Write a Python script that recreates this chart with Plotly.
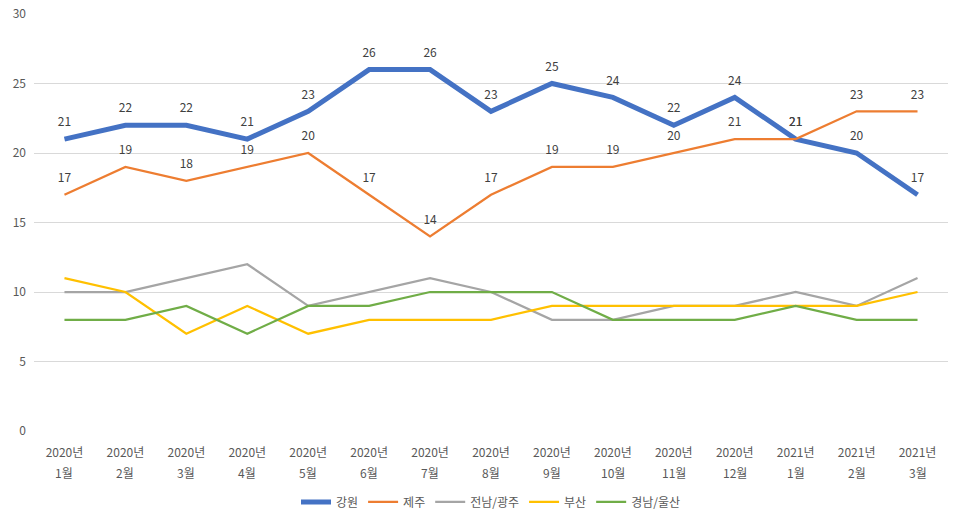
import plotly.graph_objects as go

years = ["2020년"] * 12 + ["2021년"] * 3
months = ["1월", "2월", "3월", "4월", "5월", "6월", "7월", "8월", "9월", "10월", "11월", "12월",
          "1월", "2월", "3월"]
categories = [f"{y} {m}" for y, m in zip(years, months)]

gangwon = [21, 22, 22, 21, 23, 26, 26, 23, 25, 24, 22, 24, 21, 20, 17]
jeju = [17, 19, 18, 19, 20, 17, 14, 17, 19, 19, 20, 21, 21, 23, 23]
jeonnam = [10, 10, 11, 12, 9, 10, 11, 10, 8, 8, 9, 9, 10, 9, 11]
busan = [11, 10, 7, 9, 7, 8, 8, 8, 9, 9, 9, 9, 9, 9, 10]
gyeongnam = [8, 8, 9, 7, 9, 9, 10, 10, 10, 8, 8, 8, 9, 8, 8]

y_ticks = [0, 5, 10, 15, 20, 25, 30]

FONT = "Noto Sans CJK KR, Malgun Gothic, sans-serif"
TICK_COLOR = "#595959"

fig = go.Figure()
series = [
    ("강원", gangwon, "#4472C4", 5, True),
    ("제주", jeju, "#ED7D31", 2.25, True),
    ("전남/광주", jeonnam, "#A5A5A5", 2.25, False),
    ("부산", busan, "#FFC000", 2.25, False),
    ("경남/울산", gyeongnam, "#70AD47", 2.25, False),
]
for name, vals, color, width, labels in series:
    fig.add_trace(go.Scatter(
        x=categories, y=vals, name=name, mode="lines",
        line=dict(color=color, width=width),
        hoverinfo="x+y+name",
    ))

# data labels for 강원 and 제주
for name, vals, color, width, labels in series:
    if not labels:
        continue
    fig.add_trace(go.Scatter(
        x=categories, y=vals, name=name, mode="markers+text",
        text=[str(v) for v in vals], textposition="top center",
        textfont=dict(size=12, color="#404040", family=FONT),
        marker=dict(size=14, opacity=0, color=color),
        showlegend=False, hoverinfo="skip", cliponaxis=False,
    ))

# second line of the category labels (month)
for cat, m in zip(categories, months):
    fig.add_annotation(x=cat, y=0, xref="x", yref="paper", text=m, showarrow=False,
                       yshift=-41, yanchor="middle",
                       font=dict(size=12, color=TICK_COLOR, family=FONT))

fig.update_layout(
    width=960, height=520,
    margin=dict(l=34, r=12, t=14, b=89, autoexpand=False),
    paper_bgcolor="white", plot_bgcolor="white",
    font=dict(family=FONT, size=12, color=TICK_COLOR),
    showlegend=True,
    legend=dict(orientation="h", x=0.5, xanchor="center", y=-0.17, yanchor="middle",
                font=dict(size=12, color=TICK_COLOR), itemwidth=30),
    xaxis=dict(type="category", range=[-0.5, 14.5], showgrid=False, showline=False,
               tickmode="array", tickvals=categories, ticktext=years,
               ticks="", tickfont=dict(size=12, color=TICK_COLOR), zeroline=False,
               ticklabelstandoff=13, automargin=False),
    yaxis=dict(range=[0, 30], tickvals=y_ticks, showgrid=True, gridcolor="#D9D9D9",
               gridwidth=1, zeroline=False, showline=False, ticks="",
               tickfont=dict(size=12, color=TICK_COLOR), ticklabelstandoff=7,
               automargin=False),
)

fig.write_html("out.html", config={"displayModeBar": False},
               post_script="document.body.style.margin='0';")
